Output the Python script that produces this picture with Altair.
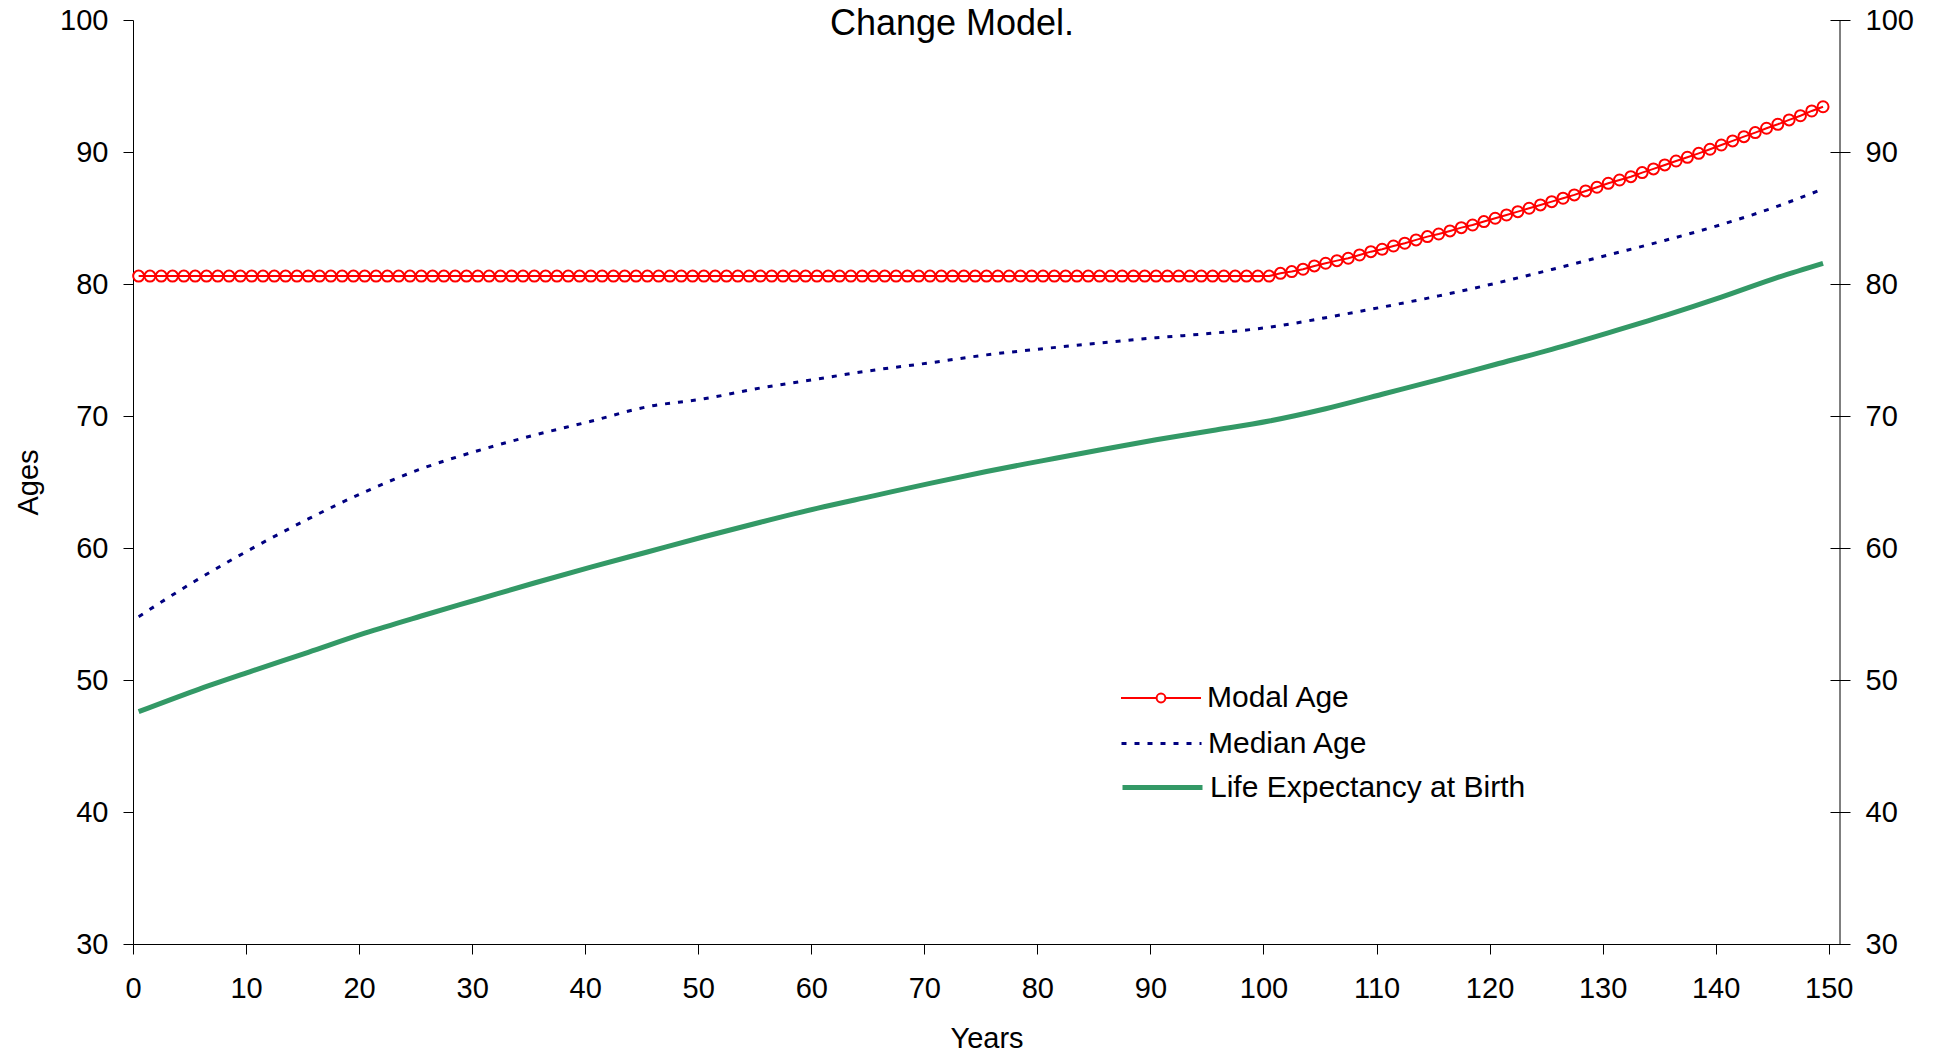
import altair as alt
import pandas as pd

FONT = "Liberation Sans"

# ---- data ----
MODAL_YEARS = [i + 0.5 for i in range(150)]
MODAL_AGE = [
    80.6, 80.6, 80.6, 80.6, 80.6, 80.6, 80.6, 80.6, 80.6, 80.6,
    80.6, 80.6, 80.6, 80.6, 80.6, 80.6, 80.6, 80.6, 80.6, 80.6,
    80.6, 80.6, 80.6, 80.6, 80.6, 80.6, 80.6, 80.6, 80.6, 80.6,
    80.6, 80.6, 80.6, 80.6, 80.6, 80.6, 80.6, 80.6, 80.6, 80.6,
    80.6, 80.6, 80.6, 80.6, 80.6, 80.6, 80.6, 80.6, 80.6, 80.6,
    80.6, 80.6, 80.6, 80.6, 80.6, 80.6, 80.6, 80.6, 80.6, 80.6,
    80.6, 80.6, 80.6, 80.6, 80.6, 80.6, 80.6, 80.6, 80.6, 80.6,
    80.6, 80.6, 80.6, 80.6, 80.6, 80.6, 80.6, 80.6, 80.6, 80.6,
    80.6, 80.6, 80.6, 80.6, 80.6, 80.6, 80.6, 80.6, 80.6, 80.6,
    80.6, 80.6, 80.6, 80.6, 80.6, 80.6, 80.6, 80.6, 80.6, 80.6,
    80.6,
    80.81, 80.94, 81.12, 81.37, 81.57, 81.77, 81.95, 82.20, 82.45, 82.63,
    82.88, 83.09, 83.34, 83.59, 83.79, 84.02, 84.27, 84.47, 84.73, 84.98,
    85.23, 85.48, 85.74, 85.99, 86.24, 86.50, 86.75, 87.05, 87.33, 87.63,
    87.88, 88.13, 88.44, 88.72, 89.02, 89.32, 89.60, 89.90, 90.21, 90.53,
    90.84, 91.16, 91.47, 91.80, 92.10, 92.43, 92.75, 93.11, 93.43,
]

LINE_YEARS = [0.5, 5.5, 10.5, 15.5, 20.5, 25.5, 30.5, 35.5, 40.5, 45.5,
              50.5, 55.5, 60.5, 65.5, 70.5, 75.5, 80.5, 85.5, 90.5, 95.5,
              100.5, 105.5, 110.5, 115.5, 120.5, 125.5, 130.5, 135.5, 140.5,
              145.5, 149.5]
MEDIAN_AGE = [54.8, 57.5, 59.95, 62.2, 64.25, 66.0, 67.37, 68.55, 69.6, 70.7,
              71.3, 72.12, 72.8, 73.47, 74.03, 74.63, 75.1, 75.52, 75.93, 76.27,
              76.72, 77.45, 78.25, 79.1, 80.05, 81.1, 82.2, 83.3, 84.5,
              85.9, 87.2]
LIFE_EXP = [47.6, 49.2, 50.67, 52.1, 53.55, 54.85, 56.1, 57.35, 58.55, 59.7,
            60.85, 61.95, 63.0, 63.95, 64.9, 65.8, 66.62, 67.43, 68.2, 68.9,
            69.62, 70.55, 71.65, 72.75, 73.9, 75.05, 76.3, 77.6, 79.0,
            80.5, 81.57]

SERIES = ["Modal Age", "Median Age", "Life Expectancy at Birth"]
COLORS = ["#FF0000", "#000080", "#339966"]
X_TICKS = list(range(0, 151, 10))
Y_TICKS = list(range(30, 101, 10))
TITLE = "Change Model."

df_modal = pd.DataFrame({"year": MODAL_YEARS, "age": MODAL_AGE, "series": SERIES[0]})
df_med = pd.DataFrame({"year": LINE_YEARS, "age": MEDIAN_AGE, "series": SERIES[1]})
df_le = pd.DataFrame({"year": LINE_YEARS, "age": LIFE_EXP, "series": SERIES[2]})

x_scale = alt.Scale(domain=[0, 151], nice=False, zero=False)
y_scale = alt.Scale(domain=[30, 100], nice=False, zero=False)

x_enc = alt.X("year:Q", scale=x_scale,
              axis=alt.Axis(values=X_TICKS, title="Years", tickSize=10,
                            labelPadding=20, titlePadding=21, labelFlush=False,
                            format="d"))
y_enc = alt.Y("age:Q", scale=y_scale,
              axis=alt.Axis(orient="left", values=Y_TICKS, title="Ages",
                            tickSize=10, labelPadding=15, titlePadding=16,
                            format="d"))


def legend(y, **kw):
    return alt.Legend(orient="none", legendX=987, legendY=y, title=None,
                      labelFont=FONT, labelFontSize=30, labelColor="black",
                      labelLimit=0, symbolSize=6400, labelOffset=5, padding=0,
                      **kw)


MODAL_SYMBOL = ("M-1,0H-0.11M0.11,0H1M-0.11,0A0.11,0.11 0 1,1 0.11,0"
                "A0.11,0.11 0 1,1 -0.11,0")

modal = alt.Chart(df_modal).mark_line(
    strokeWidth=2,
    point=alt.OverlayMarkDef(shape="circle", filled=False, strokeWidth=2,
                             size=121, opacity=1),
).encode(
    x=x_enc, y=y_enc,
    color=alt.Color("series:N", scale=alt.Scale(domain=[SERIES[0]], range=[COLORS[0]]),
                    legend=legend(637, symbolType=MODAL_SYMBOL, symbolStrokeWidth=2,
                                  symbolFillColor="white")),
)

median = alt.Chart(df_med).mark_line(strokeWidth=3, strokeDash=[5, 8],
                                     interpolate="monotone").encode(
    x=x_enc, y=y_enc,
    color=alt.Color("series:N", scale=alt.Scale(domain=[SERIES[1]], range=[COLORS[1]]),
                    legend=legend(682, symbolType="stroke", symbolStrokeWidth=3,
                                  symbolDash=[5, 8])),
)

le = alt.Chart(df_le).mark_line(strokeWidth=5, interpolate="monotone").encode(
    x=x_enc, y=y_enc,
    color=alt.Color("series:N", scale=alt.Scale(domain=[SERIES[2]], range=[COLORS[2]]),
                    legend=legend(725, symbolType="stroke", symbolStrokeWidth=5)),
)

inner = alt.layer(le, median, modal).resolve_scale(color="independent").resolve_legend(
    color="independent")

right_axis = alt.Chart(pd.DataFrame({"v": [0]})).mark_rule(
    color="black", strokeWidth=1).encode(
    x=alt.value("width"),
    y=alt.YDatum(30, scale=y_scale,
                 axis=alt.Axis(orient="right", values=Y_TICKS, title=None,
                               offset=-10, tickSize=20, domain=False,
                               labelPadding=15, format="d")),
    y2=alt.Y2Datum(100),
)

title_text = alt.Chart(pd.DataFrame({"t": [TITLE]})).mark_text(
    font=FONT, fontSize=36, color="black", align="center", baseline="alphabetic",
).encode(x=alt.value(819), y=alt.value(15), text="t:N")

chart = alt.layer(inner, right_axis, title_text).resolve_scale(y="independent").properties(
    width=1707, height=924,
    padding={"left": 125, "top": 12, "right": 90, "bottom": 108},
    autosize=alt.AutoSizeParams(type="none"),
).configure_view(stroke=None).configure_axis(
    grid=False, domainColor="black", tickColor="black", domainWidth=1, tickWidth=1,
    labelFont=FONT, labelFontSize=29, labelColor="black",
    titleFont=FONT, titleFontSize=29, titleFontWeight="normal", titleColor="black",
)

chart.save("out.html", embed_options={"renderer": "svg", "actions": False})
